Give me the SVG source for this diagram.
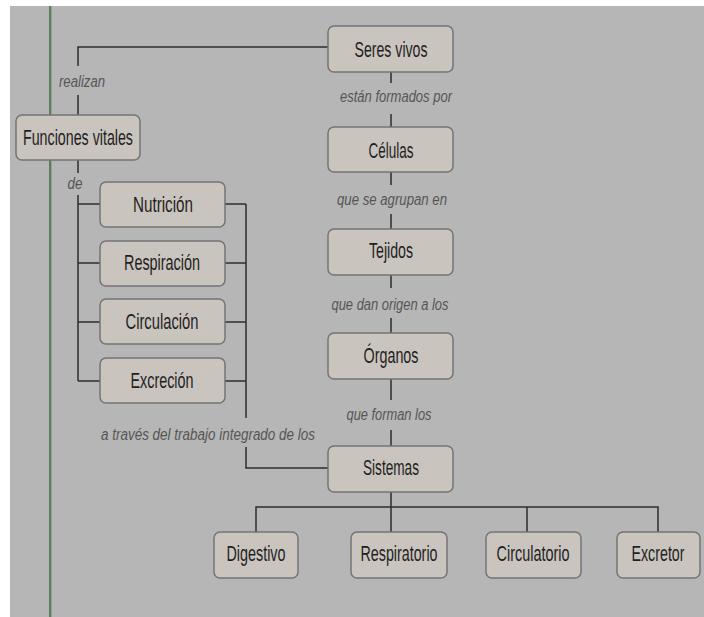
<svg xmlns="http://www.w3.org/2000/svg" width="704" height="617" viewBox="0 0 704 617">
<style>
.bg{fill:#b6b6b6}
.box{fill:#cac4be;stroke:#747474;stroke-width:1.5}
.t{font-family:"Liberation Sans",Arial,sans-serif;font-size:22px;fill:#1f1f1f;text-anchor:middle}
.l{font-family:"Liberation Sans",Arial,sans-serif;font-size:16px;font-style:italic;fill:#555;text-anchor:middle}
.c{stroke:#2e2e2e;stroke-width:1.5;fill:none}
</style>
<rect x="0" y="0" width="704" height="617" fill="#ffffff"/>
<rect class="bg" x="10" y="6" width="694" height="611"/>
<line x1="50" y1="6" x2="50" y2="617" stroke="#5e7c5e" stroke-width="2"/>
<line x1="51.5" y1="6" x2="51.5" y2="617" stroke="#8fa48f" stroke-width="1"/>
<g id="connectors">
<path class="c" d="M328 47 H78 V66 M78 95 V115"/>
<path class="c" d="M78 160 V173 M78 195 V381 M78 204 H100 M78 263 H100 M78 322 H100 M78 381 H100"/>
<path class="c" d="M225 204 H246 M225 263 H246 M225 322 H246 M225 381 H246 M246 204 V418 M246 447 V468 H328"/>
<path class="c" d="M391 72 V83 M391 114 V127 M391 172 V185 M391 214 V229 M391 275 V288 M391 318 V333 M391 379 V400 M391 430 V446"/>
<path class="c" d="M391 492 V532 M256 532 V507 H658 V532 M527 507 V532"/>
</g>
<g id="n-seres"><rect class="box" x="328" y="26" width="125" height="46" rx="6"/><text class="t" x="391" y="57" textLength="73" lengthAdjust="spacingAndGlyphs">Seres vivos</text></g>
<g id="n-celulas"><rect class="box" x="328" y="127" width="125" height="45" rx="6"/><text class="t" x="391" y="158" textLength="45" lengthAdjust="spacingAndGlyphs">Células</text></g>
<g id="n-tejidos"><rect class="box" x="328" y="229" width="125" height="46" rx="6"/><text class="t" x="391" y="258" textLength="44" lengthAdjust="spacingAndGlyphs">Tejidos</text></g>
<g id="n-organos"><rect class="box" x="328" y="333" width="125" height="46" rx="6"/><text class="t" x="391" y="363" textLength="55" lengthAdjust="spacingAndGlyphs">Órganos</text></g>
<g id="n-sistemas"><rect class="box" x="328" y="446" width="125" height="46" rx="6"/><text class="t" x="391" y="475" textLength="56" lengthAdjust="spacingAndGlyphs">Sistemas</text></g>
<g id="n-funciones"><rect class="box" x="16" y="115" width="124" height="45" rx="6"/><text class="t" x="78" y="145" textLength="110" lengthAdjust="spacingAndGlyphs">Funciones vitales</text></g>
<g id="n-nutricion"><rect class="box" x="100" y="182" width="125" height="45" rx="6"/><text class="t" x="163" y="212" textLength="60" lengthAdjust="spacingAndGlyphs">Nutrición</text></g>
<g id="n-respiracion"><rect class="box" x="100" y="241" width="125" height="45" rx="6"/><text class="t" x="162" y="270" textLength="76" lengthAdjust="spacingAndGlyphs">Respiración</text></g>
<g id="n-circulacion"><rect class="box" x="100" y="299" width="125" height="45" rx="6"/><text class="t" x="162" y="329" textLength="73" lengthAdjust="spacingAndGlyphs">Circulación</text></g>
<g id="n-excrecion"><rect class="box" x="100" y="358" width="125" height="45" rx="6"/><text class="t" x="162" y="388" textLength="63" lengthAdjust="spacingAndGlyphs">Excreción</text></g>
<g id="n-digestivo"><rect class="box" x="214" y="532" width="84" height="46" rx="6"/><text class="t" x="256" y="561" textLength="59" lengthAdjust="spacingAndGlyphs">Digestivo</text></g>
<g id="n-respiratorio"><rect class="box" x="351" y="532" width="96" height="46" rx="6"/><text class="t" x="399" y="561" textLength="77" lengthAdjust="spacingAndGlyphs">Respiratorio</text></g>
<g id="n-circulatorio"><rect class="box" x="486" y="532" width="95" height="46" rx="6"/><text class="t" x="533" y="561" textLength="73" lengthAdjust="spacingAndGlyphs">Circulatorio</text></g>
<g id="n-excretor"><rect class="box" x="617" y="532" width="83" height="46" rx="6"/><text class="t" x="658" y="561" textLength="53" lengthAdjust="spacingAndGlyphs">Excretor</text></g>
<g id="labels">
<text class="l" x="82" y="87" textLength="46" lengthAdjust="spacingAndGlyphs">realizan</text>
<text class="l" x="75" y="189" textLength="15" lengthAdjust="spacingAndGlyphs">de</text>
<text class="l" x="396" y="102" textLength="112" lengthAdjust="spacingAndGlyphs">están formados por</text>
<text class="l" x="392" y="205" textLength="110" lengthAdjust="spacingAndGlyphs">que se agrupan en</text>
<text class="l" x="390" y="310" textLength="117" lengthAdjust="spacingAndGlyphs">que dan origen a los</text>
<text class="l" x="389" y="420" textLength="85" lengthAdjust="spacingAndGlyphs">que forman los</text>
<text class="l" x="208" y="440" textLength="214" lengthAdjust="spacingAndGlyphs">a través del trabajo integrado de los</text>
</g>
</svg>
